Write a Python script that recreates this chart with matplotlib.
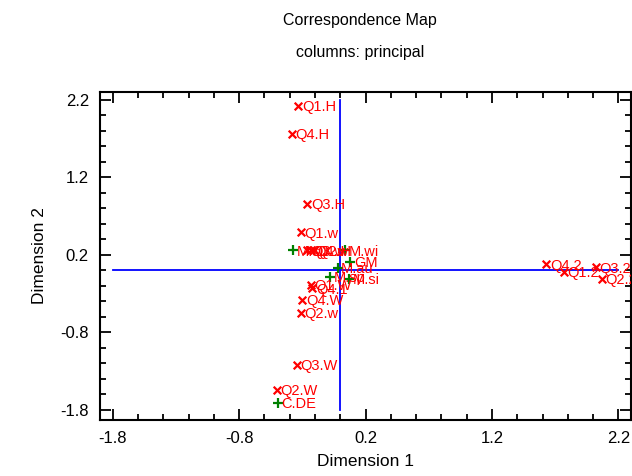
import matplotlib.pyplot as plt
from matplotlib.ticker import FixedLocator

plt.rcParams["font.family"] = ["Liberation Sans", "DejaVu Sans"]

# row points (red x)
row_labels = ["Q1.H", "Q4.H", "Q3.H", "Q1.w", "Q3.w", "Q4.w", "Q2.H",
              "Q1.W", "Q4.1", "Q4.W", "Q2.w", "Q3.W", "Q2.W",
              "Q4.2", "Q1.2", "Q3.2", "Q2.2"]
row_x = [-0.33, -0.38, -0.26, -0.31, -0.26, -0.23, -0.21,
         -0.23, -0.22, -0.30, -0.31, -0.34, -0.50,
         1.63, 1.77, 2.02, 2.07]
row_y = [2.12, 1.76, 0.86, 0.49, 0.26, 0.26, 0.26,
         -0.19, -0.23, -0.38, -0.55, -1.22, -1.54,
         0.08, -0.02, 0.04, -0.11]

# column points (green +)
col_labels = ["M.su", "M.wi", "GM", "M.au", "M.sp", "M.si", "C.DE"]
col_x = [-0.37, 0.04, 0.08, -0.02, -0.08, 0.07, -0.49]
col_y = [0.26, 0.26, 0.11, 0.03, -0.08, -0.11, -1.71]

ticks = [-1.8, -0.8, 0.2, 1.2, 2.2]

fig = plt.figure(figsize=(6.32, 4.76), dpi=100)
ax = fig.add_axes([100 / 632, 56 / 476, 531 / 632, 328 / 476])

# axis lines through the origin
ax.plot([-1.8, 2.2], [0, 0], color="blue", lw=1.3, zorder=1)
ax.plot([0, 0], [-1.8, 2.2], color="blue", lw=1.3, zorder=1)

ax.scatter(row_x, row_y, marker="x", color="red", s=30, linewidths=1.6, zorder=3)
ax.scatter(col_x, col_y, marker="+", color="green", s=50, linewidths=1.6, zorder=3)

for lab, x, y in zip(row_labels + col_labels, row_x + col_x, row_y + col_y):
    ax.annotate(lab, (x, y), xytext=(2.5, -1), textcoords="offset points",
                color="red", fontsize=10.5, va="center", ha="left",
                annotation_clip=True, clip_on=True)

ax.set_xlim(-1.9, 2.3)
ax.set_ylim(-1.93, 2.3)
ax.xaxis.set_major_locator(FixedLocator(ticks))
ax.yaxis.set_major_locator(FixedLocator(ticks))
ax.xaxis.set_minor_locator(FixedLocator([-1.8 + 0.2 * i for i in range(21)]))
ax.yaxis.set_minor_locator(FixedLocator([-1.8 + 0.2 * i for i in range(21)]))
ax.set_xticklabels([f"{t:.1f}" for t in ticks])
ax.set_yticklabels([f"{t:.1f}" for t in ticks])
ax.tick_params(which="both", direction="in", top=True, right=True,
               labelsize=12, width=1.3, pad=8)
ax.tick_params(which="major", length=8)
ax.tick_params(which="minor", length=4)
for s in ax.spines.values():
    s.set_linewidth(1.5)

ax.set_xlabel("Dimension 1", fontsize=12.5, labelpad=6)
ax.set_ylabel("Dimension 2", fontsize=12.5, labelpad=10)

fig.text(360 / 632, 1 - 20 / 476, "Correspondence Map", ha="center", va="center", fontsize=11.5)
fig.text(360 / 632, 1 - 52 / 476, "columns: principal", ha="center", va="center", fontsize=11.5)

fig.savefig("out.png", dpi=100)
